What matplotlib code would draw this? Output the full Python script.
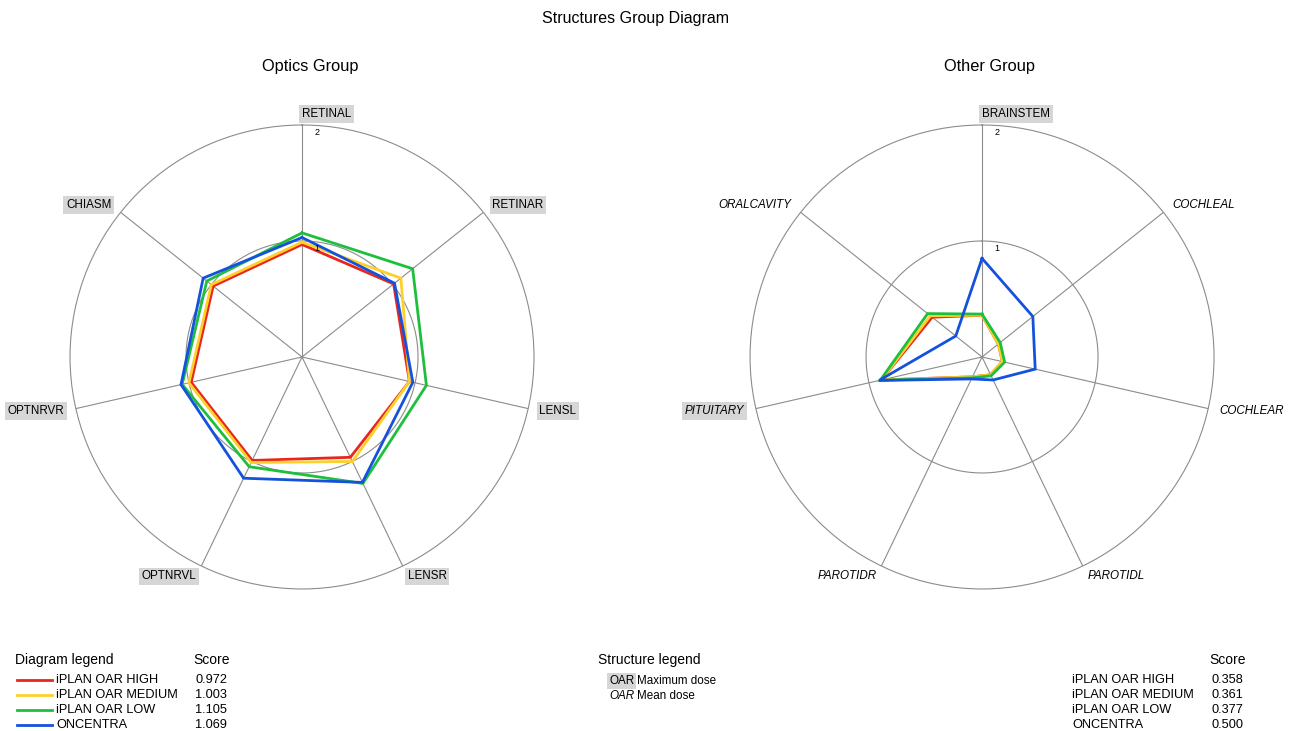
import numpy as np
import matplotlib.pyplot as plt
from matplotlib.lines import Line2D

plt.rcParams["font.family"] = ["Liberation Sans", "DejaVu Sans"]

series = ["iPLAN OAR HIGH", "iPLAN OAR MEDIUM", "iPLAN OAR LOW", "ONCENTRA"]
colors = ["#e8261c", "#fdd02a", "#1dbf3c", "#1552dc"]

optics_labels = ["RETINAL", "RETINAR", "LENSL", "LENSR", "OPTNRVL", "OPTNRVR", "CHIASM"]
optics_is_max = [True, True, True, True, True, True, True]
optics_high = [0.97, 1.01, 0.95, 0.96, 0.99, 0.98, 0.98]
optics_medium = [0.99, 1.09, 0.95, 1.00, 1.01, 1.00, 1.00]
optics_low = [1.07, 1.22, 1.10, 1.21, 1.05, 1.06, 1.05]
optics_oncentra = [1.03, 1.02, 0.98, 1.20, 1.16, 1.07, 1.09]
optics_scores = ["0.972", "1.003", "1.105", "1.069"]

other_labels = ["BRAINSTEM", "COCHLEAL", "COCHLEAR", "PAROTIDL", "PAROTIDR", "PITUITARY", "ORALCAVITY"]
other_is_max = [True, False, False, False, False, True, False]
other_italic = [False, True, True, True, True, True, True]
other_high = [0.36, 0.18, 0.18, 0.17, 0.19, 0.89, 0.55]
other_medium = [0.36, 0.18, 0.18, 0.17, 0.19, 0.89, 0.57]
other_low = [0.37, 0.20, 0.20, 0.18, 0.20, 0.90, 0.60]
other_oncentra = [0.85, 0.56, 0.47, 0.22, 0.21, 0.91, 0.29]
other_scores = ["0.358", "0.361", "0.377", "0.500"]

GRID = "#8c8c8c"
BOX = "#d6d6d6"


def fy(py):
    return 1 - py / 731


def fx(px):
    return px / 1299


def draw_radar(ax, labels, boxed, italic, values):
    n = len(labels)
    thetas = np.linspace(0, 2 * np.pi, n, endpoint=False)

    ax.set_theta_zero_location("N")
    ax.set_theta_direction(-1)
    ax.set_ylim(0, 2)
    ax.grid(False)
    ax.set_xticks([])
    ax.set_yticks([])
    ax.spines["polar"].set_color(GRID)
    ax.spines["polar"].set_linewidth(0.8)

    ring = np.linspace(0, 2 * np.pi, 300)
    ax.plot(ring, np.ones_like(ring), color=GRID, lw=0.8)
    for t in thetas:
        ax.plot([t, t], [0, 2], color=GRID, lw=0.8)

    for vals, col in zip(values, colors):
        v = list(vals) + [vals[0]]
        t = list(thetas) + [thetas[0]]
        ax.plot(t, v, color=col, lw=2.0, solid_joinstyle="miter")

    for t, lab, bx, it in zip(thetas, labels, boxed, italic):
        deg = np.degrees(t)
        if deg < 1:
            ha, va, r = "left", "bottom", 2.045
        elif deg < 180:
            ha, va, r = "left", "center", 2.1
        else:
            ha, va, r = "right", "center", 2.1
        bbox = dict(boxstyle="square,pad=0.25", fc=BOX, ec="none") if bx else None
        ax.text(t, r, lab, ha=ha, va=va, fontsize=8.4,
                style="italic" if it else "normal", bbox=bbox, clip_on=False)

    for r in [1, 2]:
        ax.annotate(str(r), xy=(0, r), xytext=(9, -2), textcoords="offset points",
                    fontsize=6.5, ha="left", va="top")


fig = plt.figure(figsize=(12.99, 7.31), dpi=100)
fig.text(fx(636), fy(18), "Structures Group Diagram", ha="center", va="center", fontsize=11.5)

ax1 = fig.add_axes([0.0539, 0.1943, 0.3572, 0.6347], projection="polar")
draw_radar(ax1, optics_labels, optics_is_max, [False] * 7,
           [optics_high, optics_medium, optics_low, optics_oncentra])
fig.text(fx(310), fy(67), "Optics Group", ha="center", va="center", fontsize=11.8)

ax2 = fig.add_axes([0.5774, 0.1943, 0.3572, 0.6347], projection="polar")
draw_radar(ax2, other_labels, other_is_max, other_italic,
           [other_high, other_medium, other_low, other_oncentra])
fig.text(fx(989), fy(67), "Other Group", ha="center", va="center", fontsize=11.8)

# diagram legend (left)
fig.text(fx(15), fy(660), "Diagram legend", fontsize=10, va="center")
fig.text(fx(193), fy(660), "Score", fontsize=10, va="center")
rows = [680, 695, 710, 725]
for name, col, sc, y in zip(series, colors, optics_scores, rows):
    fig.add_artist(Line2D([fx(17), fx(52)], [fy(y), fy(y)], color=col, lw=2.0))
    fig.text(fx(56), fy(y), name, fontsize=9.2, va="center")
    fig.text(fx(195), fy(y), sc, fontsize=9.2, va="center")

# structure legend (middle)
fig.text(fx(598), fy(660), "Structure legend", fontsize=10, va="center")
fig.text(fx(609), fy(681), "OAR", fontsize=8.4, va="center",
         bbox=dict(boxstyle="square,pad=0.15", fc=BOX, ec="none"))
fig.text(fx(637), fy(681), "Maximum dose", fontsize=8.4, va="center")
fig.text(fx(609), fy(696), "OAR", fontsize=8.4, va="center", style="italic")
fig.text(fx(637), fy(696), "Mean dose", fontsize=8.4, va="center")

# score legend (right)
fig.text(fx(1209), fy(660), "Score", fontsize=10, va="center")
for name, sc, y in zip(series, other_scores, rows):
    fig.text(fx(1072), fy(y), name, fontsize=9.2, va="center")
    fig.text(fx(1211), fy(y), sc, fontsize=9.2, va="center")

fig.savefig("out.png", dpi=100)
